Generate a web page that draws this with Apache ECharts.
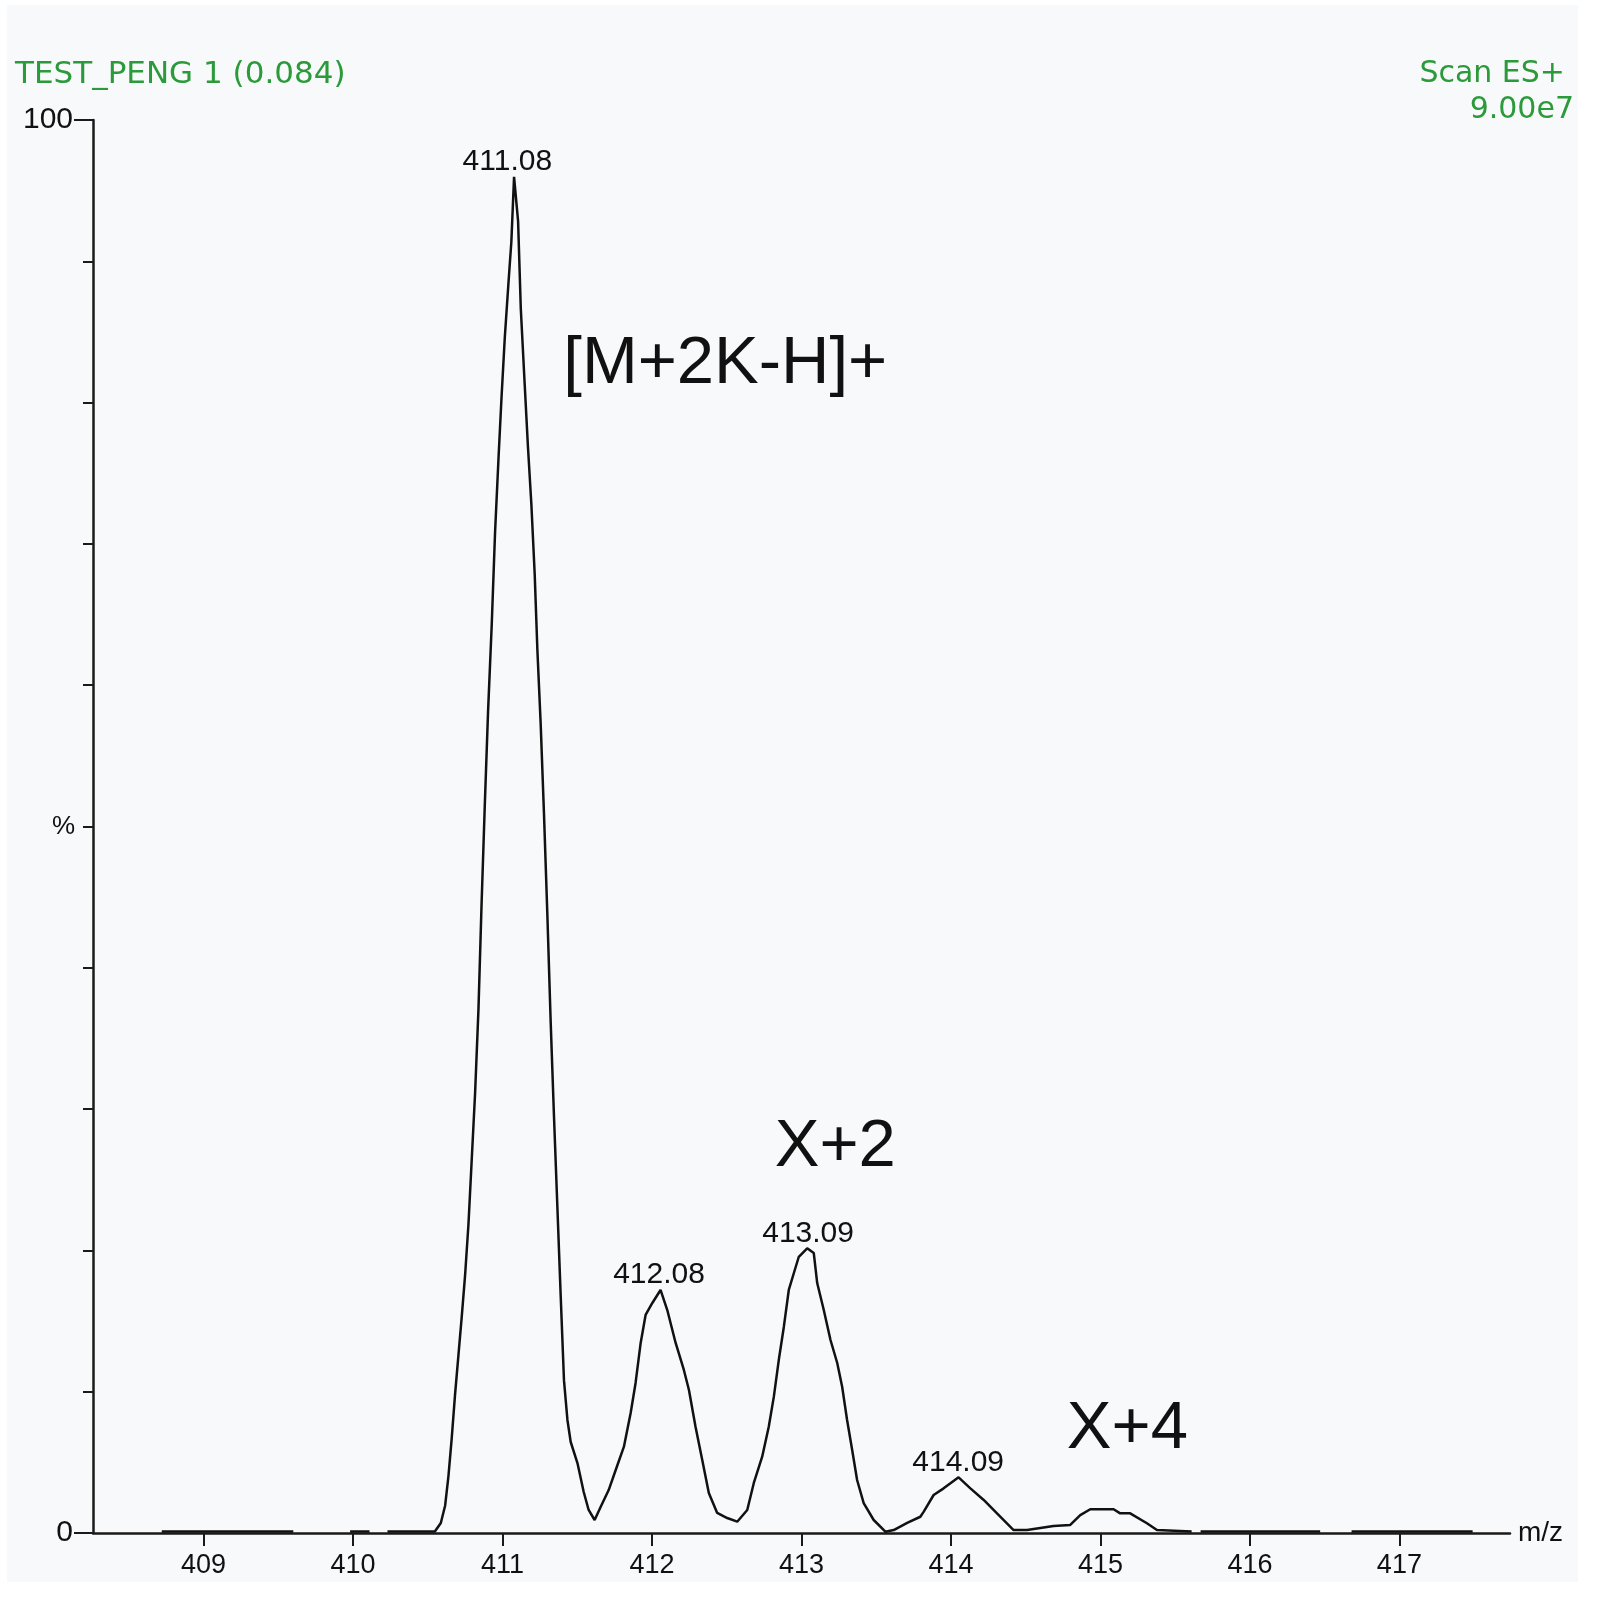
<!DOCTYPE html>
<html>
<head>
<meta charset="utf-8">
<script src="https://cdn.jsdelivr.net/npm/echarts@6/dist/echarts.min.js"></script>
<style>
html,body{margin:0;padding:0;background:#ffffff;}
#chart{width:1612px;height:1613px;}
</style>
</head>
<body>
<div id="chart"></div>
<script>
// ---- data ----
// m/z values of the profile trace (null intensity = gap in the trace)
const mzValues = [
  408.72, 409.60, 409.80, 409.98, 410.11, 410.17, 410.23,
  410.547, 410.587, 410.616, 410.638, 410.660, 410.682, 410.705, 410.727, 410.749, 410.772,
  410.794, 410.816, 410.839, 410.859, 410.881, 410.903, 410.928, 410.950, 410.973, 410.993,
  411.015, 411.039, 411.059, 411.077, 411.104, 411.122, 411.148, 411.170, 411.193, 411.215,
  411.233, 411.255, 411.277, 411.300, 411.322, 411.344, 411.367, 411.389, 411.411, 411.434,
  411.456, 411.501, 411.543, 411.576, 411.616, 411.656, 411.710, 411.757, 411.812, 411.857,
  411.890, 411.924, 411.957, 412.002, 412.057, 412.102, 412.158, 412.213, 412.247, 412.291,
  412.336, 412.380, 412.436, 412.503, 412.570, 412.637, 412.681, 412.737, 412.781, 412.815,
  412.848, 412.882, 412.915, 412.949, 412.982, 413.038, 413.082, 413.105, 413.149, 413.194,
  413.239, 413.272, 413.305, 413.339, 413.372, 413.416, 413.483, 413.561, 413.617, 413.707,
  413.795, 413.818, 413.884, 413.951, 414.051, 414.130, 414.219, 414.308, 414.419, 414.509,
  414.686, 414.798, 414.865, 414.932, 415.088, 415.132, 415.199, 415.311, 415.378, 415.61,
  415.64, 415.67, 416.47, 416.57, 416.68, 417.49
];
// relative intensity (%) at each m/z above
const intensityValues = [
  0.1, 0.1, null, 0.1, 0.1, null, 0.1,
  0.1, 0.71, 1.95, 4.03, 6.72, 9.77, 12.60, 15.31, 18.19, 21.87,
  26.47, 31.07, 37.11, 44.30, 51.45, 58.13, 64.40, 70.86, 76.08, 80.34,
  84.61, 88.39, 91.40, 95.98, 92.82, 86.66, 81.32, 76.86, 72.75, 67.87,
  62.49, 57.28, 50.96, 43.67, 36.16, 29.51, 23.00, 16.77, 10.80, 8.00,
  6.44, 4.95, 2.90, 1.63, 0.92, 1.84, 3.04, 4.46, 6.11, 8.49,
  10.62, 13.45, 15.43, 16.28, 17.20, 15.78, 13.45, 11.54, 10.12, 7.52,
  5.17, 2.83, 1.42, 1.06, 0.80, 1.63, 3.54, 5.40, 7.52, 9.65,
  12.24, 14.60, 17.20, 18.40, 19.55, 20.15, 19.82, 17.69, 15.78, 13.66,
  12.03, 10.35, 8.00, 5.87, 3.75, 2.12, 0.92, 0.09, 0.21, 0.71,
  1.15, 1.51, 2.69, 3.16, 3.94, 3.16, 2.34, 1.39, 0.21, 0.21,
  0.50, 0.57, 1.27, 1.68, 1.68, 1.39, 1.39, 0.69, 0.21, 0.1,
  null, 0.1, 0.1, null, 0.1, 0.1
];
// labelled peaks: label text, label centre m/z, apex intensity
const peakLabels = ['411.08', '412.08', '413.09', '414.09'];
const peakLabelMz = [411.032, 412.047, 413.044, 414.048];
const peakIntensity = [95.98, 17.20, 20.15, 3.94];
// large annotations (centre of text in data units)
const annotationTexts = ['[M+2K-H]+', 'X+2', 'X+4'];
const annotationMz = [412.49, 413.226, 415.18];
const annotationIntensity = [82.66, 27.3, 7.29];
// axis ticks
const xTickValues = [409, 410, 411, 412, 413, 414, 415, 416, 417];
const yLabelValues = [0, 100];
const xRange = [408.26, 417.74];
// header texts
const headerLeft = 'TEST_PENG 1 (0.084)';
const headerRight1 = 'Scan ES+';
const headerRight2 = '9.00e7';

// ---- build ----
const FONT = 'Liberation Sans, Arial, sans-serif';
const WIDE = 'DejaVu Sans, Verdana, sans-serif';
const traceData = mzValues.map((m, i) => [m, intensityValues[i]]);
const peakData = peakLabelMz.map((m, i) => [m, peakIntensity[i], peakLabels[i]]);
const annoData = annotationMz.map((m, i) => [m, annotationIntensity[i], annotationTexts[i]]);

const chart = echarts.init(document.getElementById('chart'), null, {renderer: 'canvas'});
const option = {
  animation: false,
  backgroundColor: '#ffffff',
  graphic: [
    {type: 'rect', z: -10, shape: {x: 7, y: 5, width: 1571, height: 1577}, style: {fill: '#f8f9fa'}},
    {type: 'text', left: 15, top: 59, style: {text: headerLeft, fill: '#2a9a3a', font: '31px ' + WIDE}},
    {type: 'text', right: 47, top: 59, style: {text: headerRight1, fill: '#2a9a3a', font: '30px ' + WIDE, textAlign: 'right'}},
    {type: 'text', right: 38, top: 95, style: {text: headerRight2, fill: '#2a9a3a', font: '30px ' + WIDE, textAlign: 'right'}}
  ],
  grid: {left: 93, right: 102, top: 120, bottom: 80, containLabel: false},
  xAxis: {
    type: 'value', min: xRange[0], max: xRange[1],
    axisLine: {show: true, lineStyle: {color: '#1a1a1a', width: 2.5}},
    axisTick: {show: true, customValues: xTickValues, length: 13, lineStyle: {color: '#1a1a1a', width: 2}},
    axisLabel: {show: true, customValues: xTickValues, margin: 19, fontSize: 27, color: '#111', fontFamily: FONT},
    splitLine: {show: false},
    name: 'm/z', nameLocation: 'end', nameGap: 8,
    nameTextStyle: {fontSize: 28, color: '#111', fontFamily: FONT}
  },
  yAxis: [
    {
      type: 'value', min: 0, max: 100, interval: 10,
      axisLine: {show: true, lineStyle: {color: '#1a1a1a', width: 2.5}},
      axisTick: {show: true, length: 10, lineStyle: {color: '#1a1a1a', width: 2}},
      axisLabel: {show: false},
      splitLine: {show: false},
      name: '%', nameLocation: 'middle', nameGap: 18, nameRotate: 0,
      nameTextStyle: {fontSize: 26, color: '#111', fontFamily: FONT}
    },
    {
      type: 'value', min: 0, max: 100, position: 'left',
      axisLine: {show: false},
      axisTick: {show: true, customValues: yLabelValues, length: 19, lineStyle: {color: '#1a1a1a', width: 2}},
      axisLabel: {show: true, customValues: yLabelValues, margin: 20, fontSize: 30, color: '#111', fontFamily: FONT},
      splitLine: {show: false}
    }
  ],
  series: [
    {
      type: 'line', data: traceData, xAxisIndex: 0, yAxisIndex: 0,
      showSymbol: false, connectNulls: false, smooth: false,
      lineStyle: {color: '#111', width: 2.5}, z: 5
    },
    {
      type: 'scatter', data: peakData, xAxisIndex: 0, yAxisIndex: 0,
      symbolSize: 0, silent: true, itemStyle: {opacity: 1},
      label: {show: true, position: 'top', distance: 0, fontSize: 30, color: '#111', fontFamily: FONT,
        formatter: p => p.value[2]}
    },
    {
      type: 'scatter', data: annoData, xAxisIndex: 0, yAxisIndex: 0,
      symbolSize: 0, silent: true, itemStyle: {opacity: 1},
      label: {show: true, position: 'inside', fontSize: 67, color: '#111', fontFamily: FONT,
        formatter: p => p.value[2]}
    }
  ]
};
chart.setOption(option);
</script>
</body>
</html>
